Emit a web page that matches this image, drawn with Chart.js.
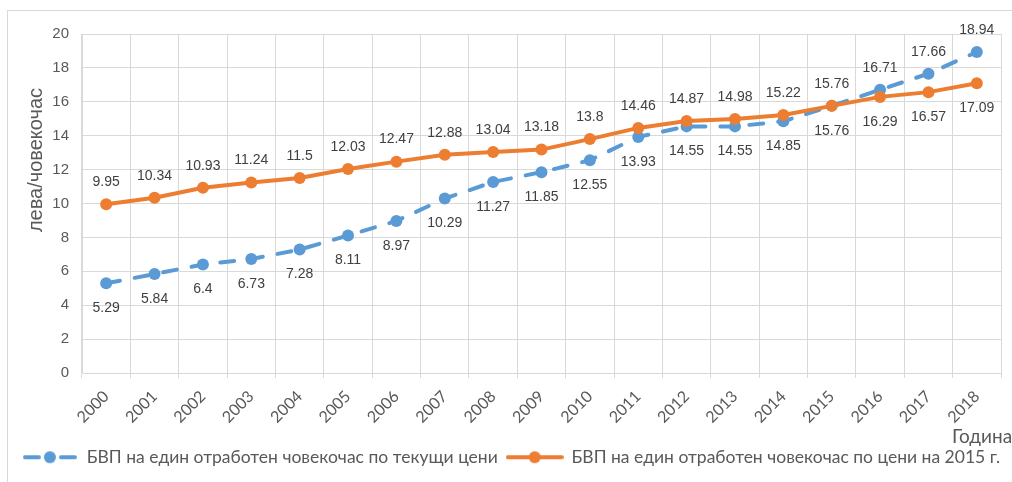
<!DOCTYPE html>
<html>
<head>
<meta charset="utf-8">
<script src="https://cdn.jsdelivr.net/npm/chart.js@4.4.0/dist/chart.umd.min.js"></script>
<style>
html,body{margin:0;padding:0;background:#fff;overflow:hidden}
canvas{display:block}
</style>
</head>
<body>
<canvas id="c" width="1012" height="482"></canvas>
<script>
// ---- data ----
const categories = ['2000','2001','2002','2003','2004','2005','2006','2007','2008','2009','2010','2011','2012','2013','2014','2015','2016','2017','2018'];
const currentPrices = [5.29, 5.84, 6.4, 6.73, 7.28, 8.11, 8.97, 10.29, 11.27, 11.85, 12.55, 13.93, 14.55, 14.55, 14.85, 15.76, 16.71, 17.66, 18.94];
const prices2015 = [9.95, 10.34, 10.93, 11.24, 11.5, 12.03, 12.47, 12.88, 13.04, 13.18, 13.8, 14.46, 14.87, 14.98, 15.22, 15.76, 16.29, 16.57, 17.09];
const seriesNames = ['БВП на един отработен човекочас по текущи цени', 'БВП на един отработен човекочас по цени на 2015 г.'];
const yTicks = [0, 2, 4, 6, 8, 10, 12, 14, 16, 18, 20];
const yTitle = 'лева/човекочас';
const xTitle = 'Година';

// ---- styles ----
const BLUE = '#5b9bd5';
const ORANGE = '#ed7d31';
const GRID = '#d9d9d9';
const ARIAL = '"Liberation Sans", Arial, Helvetica, sans-serif';
const CAL = 'Lato, "Open Sans", sans-serif';

function legendIcon(color, dashed) {
  const c = document.createElement('canvas');
  const w = dashed ? 54 : 58;
  c.width = w; c.height = 14;
  const g = c.getContext('2d');
  g.strokeStyle = color; g.fillStyle = color;
  g.lineWidth = 4; g.lineCap = 'round';
  g.beginPath();
  if (dashed) {
    g.moveTo(2, 7); g.lineTo(16, 7);
    g.moveTo(38, 7); g.lineTo(52, 7);
  } else {
    g.moveTo(2, 7); g.lineTo(w - 2, 7);
  }
  g.stroke();
  g.beginPath(); g.arc(w / 2, 7, 6, 0, Math.PI * 2); g.fill();
  return c;
}
const icons = [legendIcon(BLUE, true), legendIcon(ORANGE, false)];

const frame = {
  id: 'frame',
  beforeDraw(chart) {
    const ctx = chart.ctx;
    ctx.save();
    ctx.strokeStyle = GRID; ctx.lineWidth = 1;
    ctx.strokeRect(7.5, 10.5, 1200, 600);
    ctx.restore();
  }
};

const valueLabels = {
  id: 'valueLabels',
  afterDatasetsDraw(chart) {
    const ctx = chart.ctx;
    const ds = chart.data.datasets;
    ctx.save();
    ctx.font = '14px ' + ARIAL;
    ctx.fillStyle = '#404040';
    ctx.textAlign = 'center';
    ctx.textBaseline = 'middle';
    ds.forEach((d, di) => {
      const meta = chart.getDatasetMeta(di);
      const other = ds[1 - di].data;
      meta.data.forEach((pt, i) => {
        const v = d.data[i], o = other[i];
        const above = di === 0 ? v >= o : v > o;
        ctx.fillText(String(v), pt.x, above ? pt.y - 22 : pt.y + 25);
      });
    });
    ctx.restore();
  }
};

const axisTitles = {
  id: 'axisTitles',
  afterDraw(chart) {
    const ctx = chart.ctx;
    ctx.save();
    ctx.fillStyle = '#595959';
    ctx.font = '20px ' + ARIAL;
    ctx.textAlign = 'center';
    ctx.textBaseline = 'alphabetic';
    ctx.translate(42, 160);
    ctx.rotate(-Math.PI / 2);
    ctx.fillText(yTitle, 0, 0);
    ctx.restore();
    ctx.save();
    ctx.fillStyle = '#595959';
    ctx.font = '19px ' + CAL;
    ctx.textAlign = 'left';
    ctx.textBaseline = 'alphabetic';
    ctx.fillText(xTitle, 952, 443);
    ctx.restore();
  }
};

new Chart(document.getElementById('c'), {
  type: 'line',
  data: {
    labels: categories,
    datasets: [
      {
        label: seriesNames[0],
        data: currentPrices,
        borderColor: BLUE,
        backgroundColor: BLUE,
        borderWidth: 4,
        borderDash: [14, 15],
        borderCapStyle: 'round',
        pointRadius: 6,
        pointBorderWidth: 0,
        pointBackgroundColor: BLUE,
        tension: 0,
        order: 1
      },
      {
        label: seriesNames[1],
        data: prices2015,
        borderColor: ORANGE,
        backgroundColor: ORANGE,
        borderWidth: 4,
        borderCapStyle: 'round',
        pointRadius: 6,
        pointBorderWidth: 0,
        pointBackgroundColor: ORANGE,
        tension: 0,
        order: 0
      }
    ]
  },
  options: {
    responsive: false,
    animation: false,
    devicePixelRatio: 1,
    layout: { padding: { left: 10, right: 0, top: 34, bottom: 6 } },
    plugins: {
      tooltip: { enabled: false },
      legend: {
        position: 'bottom',
        labels: {
          usePointStyle: true,
          pointStyleWidth: 56,
          padding: 9,
          color: '#595959',
          font: { family: CAL, size: 17.5 },
          generateLabels(chart) {
            const items = Chart.defaults.plugins.legend.labels.generateLabels(chart);
            items.forEach(it => { it.pointStyle = icons[it.datasetIndex]; it.lineWidth = 0; });
            return items.sort((a, b) => a.datasetIndex - b.datasetIndex);
          }
        }
      }
    },
    scales: {
      x: {
        offset: true,
        grid: { color: GRID, offset: true, drawTicks: true, tickLength: 5, tickColor: GRID },
        border: { color: GRID },
        ticks: {
          color: '#595959',
          font: { family: CAL, size: 16 },
          minRotation: 45, maxRotation: 45,
          padding: 9,
          autoSkip: false
        },
        afterFit(scale) { scale.height = 66.5; }
      },
      y: {
        min: yTicks[0],
        max: yTicks[yTicks.length - 1],
        grid: { color: GRID, drawTicks: false },
        border: { color: GRID },
        ticks: {
          stepSize: yTicks[1] - yTicks[0],
          color: '#595959',
          font: { family: ARIAL, size: 15 },
          padding: 13
        },
        afterFit(scale) { scale.width = 72; }
      },
      yRight: {
        position: 'right',
        grid: { display: false, drawTicks: false },
        border: { display: false },
        ticks: { display: false },
        afterFit(scale) { scale.width = 11; }
      }
    }
  },
  plugins: [frame, valueLabels, axisTitles]
});
</script>
</body>
</html>
